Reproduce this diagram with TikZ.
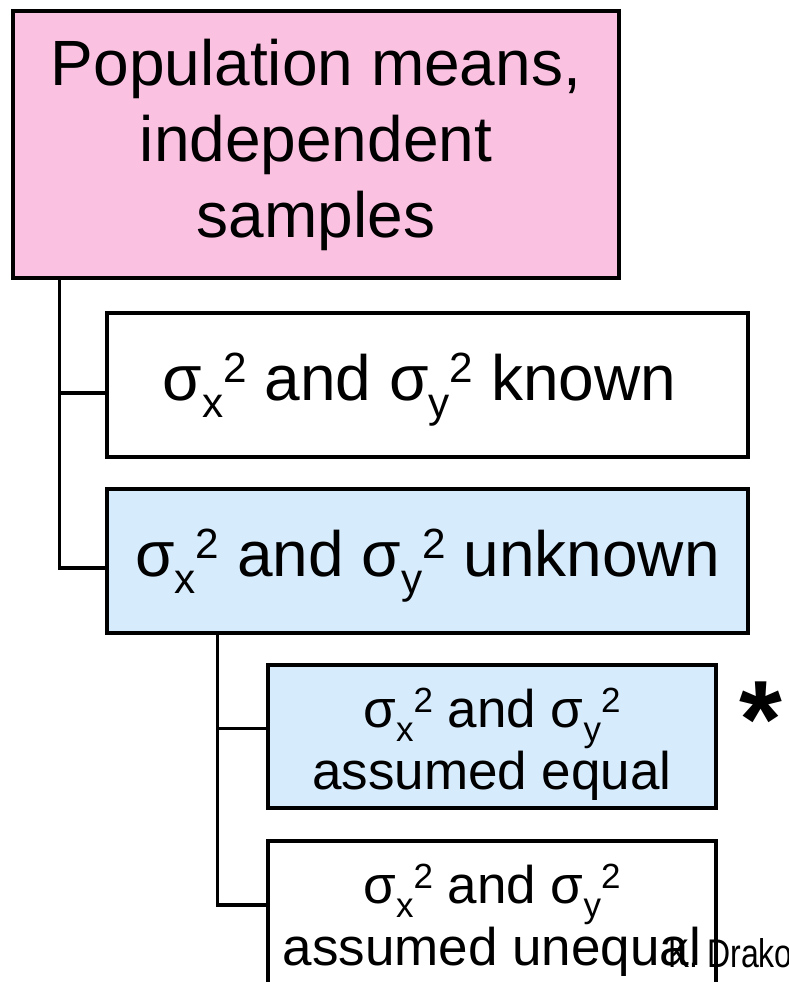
\documentclass[tikz,border=0pt]{standalone}
\usepackage{fontspec}
\usepackage{graphicx}
\setmainfont{Liberation Sans}
\definecolor{rootpink}{HTML}{FBC1E1}
\definecolor{caseblue}{HTML}{D6EBFC}
\newcommand{\sgm}[1]{σ\raisebox{-0.27em}{\scalebox{0.66}{#1}}\raisebox{0.28em}{\scalebox{0.66}{2}}}
\tikzset{
    casebox/.style={draw, line width=3.3pt, align=center, inner sep=0pt},
    bigtext/.style={font=\fontsize{64}{76}\selectfont},
    oneline/.style={text height=46pt, text depth=16pt},
    smalltext/.style={font=\fontsize{53}{62}\selectfont},
    tree/.style={line width=3.3pt}
}
\begin{document}
\begin{tikzpicture}[x=1pt,y=-1pt]

            \useasboundingbox (0,0) rectangle (789,982);
            \clip (0,0) rectangle (789,982);

            % Root
            \node[casebox, bigtext, fill=rootpink, minimum width=606pt, minimum height=267pt] (root) at (316,144.5)
                {Population means,\\independent\\samples};

            % Variances known / unknown
            \node[casebox, bigtext, oneline, minimum width=641pt, minimum height=144pt] (known) at (427.5,385)
                {\sgm{x} and \sgm{y} known\hspace*{16pt}};
            \node[casebox, bigtext, oneline, fill=caseblue, minimum width=641pt, minimum height=144pt] (unknown) at (427.5,561)
                {\sgm{x} and \sgm{y} unknown};

            % Equal / unequal
            \node[casebox, smalltext, fill=caseblue, minimum width=448pt, minimum height=143pt] (equal) at (492,736.5)
                {\rule{0pt}{54pt}\sgm{x} and \sgm{y}\\assumed equal};
            \node[casebox, smalltext, minimum width=448pt, minimum height=146pt] (unequal) at (492,914)
                {\rule{0pt}{51pt}\sgm{x} and \sgm{y}\\assumed unequal};

            \node[anchor=north, inner sep=0pt, font=\fontsize{110}{110}\selectfont\bfseries] (star) at (761,682) {*};
            \node[anchor=base west, inner sep=0pt, font=\fontsize{40}{40}\selectfont] (credit) at (668,967)
                {\scalebox{0.8}[1]{K. Drako}};

            % Connections
            \draw[tree] ([xshift=48pt]root.south west) |- ([yshift=-8pt]known.west); % root to known
            \draw[tree] ([xshift=48pt]root.south west) |- ([yshift=-7pt]unknown.west); % root to unknown
            \draw[tree] ([xshift=112pt]unknown.south west) |- ([yshift=8pt]equal.west); % unknown to equal
            \draw[tree] ([xshift=112pt]unknown.south west) |- ([yshift=9pt]unequal.west); % unknown to unequal

\end{tikzpicture}
\end{document}
